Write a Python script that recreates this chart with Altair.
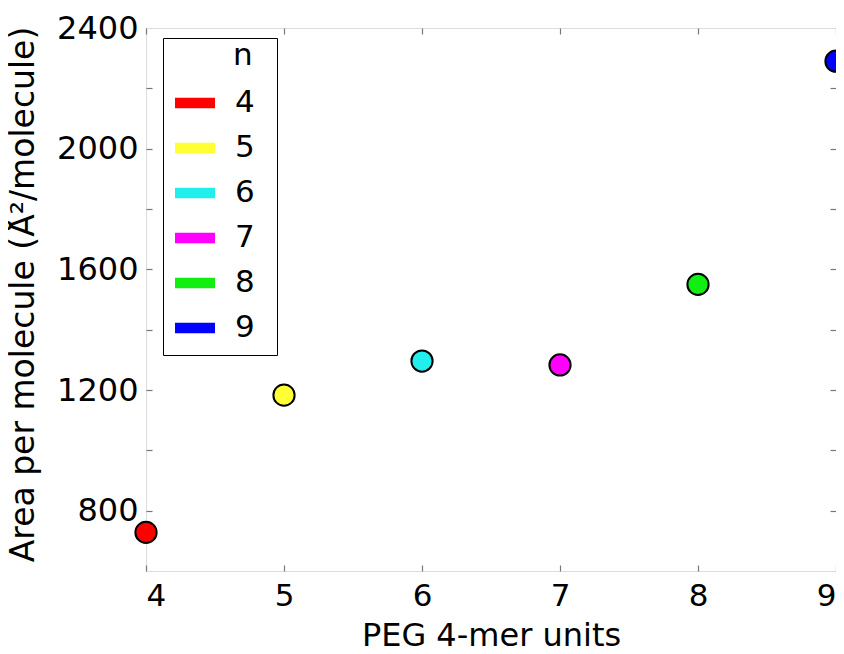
import altair as alt
import pandas as pd

n_units = [4, 5, 6, 7, 8, 9]
area = [728, 1183, 1296, 1283, 1550, 2290]
n_labels = ["4", "5", "6", "7", "8", "9"]
colors = ["#ff0000", "#ffff33", "#22eeee", "#ff00ff", "#11ee11", "#0000ff"]
y_major = [800, 1200, 1600, 2000, 2400]
y_ticks = [800, 1000, 1200, 1400, 1600, 1800, 2000, 2200]
x_ticks = [4, 5, 6, 7, 8, 9]

df = pd.DataFrame({"x": n_units, "y": area, "n": n_labels})

W, H = 690, 543
FONT = "DejaVu Sans"
TICK_COLOR = "#777777"
xs = alt.Scale(domain=[4, 9], nice=False, zero=False)
ys = alt.Scale(domain=[600, 2400], nice=False, zero=False)

base = alt.Chart(df)

points = base.mark_point(filled=True, size=450, stroke="black", strokeWidth=2, opacity=1).encode(
    x=alt.X("x:Q", scale=xs, axis=alt.Axis(
        orient="bottom", values=x_ticks, title="PEG 4-mer units", ticks=False, domain=False,
        grid=False, labelFontSize=31, titleFontSize=32, labelPadding=10, titlePadding=9,
        format="d", labelColor="black", titleColor="black", titleFontWeight="normal",
        labelFont=FONT, titleFont=FONT)),
    y=alt.Y("y:Q", scale=ys, axis=alt.Axis(
        orient="left", values=y_major, title="Area per molecule (Å²/molecule)", ticks=False,
        domain=False, grid=False, labelFontSize=32, titleFontSize=33, labelPadding=8,
        titlePadding=16, titleY=266, format="d", labelColor="black", titleColor="black",
        titleFontWeight="normal", labelFont=FONT, titleFont=FONT)),
    fill=alt.Fill("n:N", scale=alt.Scale(domain=n_labels, range=colors), legend=alt.Legend(
        orient="none", legendX=17, legendY=10, title="n\u2009\u2009\u200b", titleFontSize=31,
        titleFontWeight="normal", titleAnchor="end", titleBaseline="line-top",
        titleLineHeight=12, titlePadding=2, titleAlign="right",
        titleColor="black", titleFont=FONT, labelFont=FONT, labelFontSize=31,
        labelColor="black", labelOffset=20,
        symbolType="M-1,-0.26H1V0.26H-1Z M3.5,0L3.5,0.001Z", symbolSize=1600,
        symbolStrokeWidth=0, symbolOpacity=1, strokeColor="black", fillColor="white",
        padding=12, rowPadding=10, cornerRadius=0)),
)


def tick_layer(xorient, xoff, yorient, yoff):
    return base.mark_point(opacity=0).encode(
        x=alt.X("x:Q", scale=xs, axis=alt.Axis(
            orient=xorient, offset=xoff, values=x_ticks, labels=False, title=None,
            domain=False, ticks=True, tickSize=6, tickColor=TICK_COLOR, tickWidth=1.2,
            grid=False)),
        y=alt.Y("y:Q", scale=ys, axis=alt.Axis(
            orient=yorient, offset=yoff, values=y_ticks, labels=False, title=None,
            domain=False, ticks=True, tickSize=6, tickColor=TICK_COLOR, tickWidth=1.2,
            grid=False)),
    )


ticks_a = tick_layer("bottom", -H, "left", -W)
ticks_b = tick_layer("top", -H, "right", -W)

chart = alt.layer(ticks_a, ticks_b, points).resolve_axis(
    x="independent", y="independent"
).properties(
    width=W, height=H,
    autosize=alt.AutoSizeParams(type="none"),
    padding={"left": 138, "top": 20, "right": 0, "bottom": 75},
).configure_view(
    stroke=TICK_COLOR, strokeWidth=1.5
).configure_legend(
    strokeWidth=2
).configure(font=FONT)

chart.save("out.html", embed_options={"renderer": "svg", "actions": False})
